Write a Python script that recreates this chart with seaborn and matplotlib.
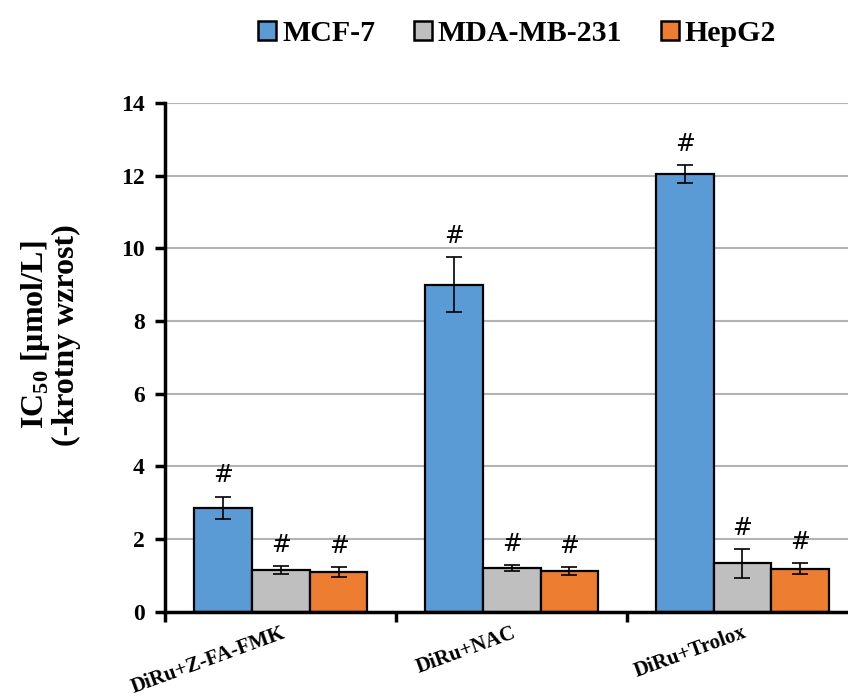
import numpy as np
import pandas as pd
import matplotlib
matplotlib.use('Agg')
import matplotlib.pyplot as plt
import seaborn as sns
from matplotlib.patches import Patch

# data
treatments = ['DiRu+Z-FA-FMK', 'DiRu+NAC', 'DiRu+Trolox']
cell_lines = ['MCF-7', 'MDA-MB-231', 'HepG2']
mcf7 = [2.86, 9.00, 12.04]
mda = [1.16, 1.21, 1.33]
hepg2 = [1.10, 1.12, 1.19]
mcf7_err = [0.31, 0.75, 0.24]
mda_err = [0.11, 0.08, 0.40]
hepg2_err = [0.14, 0.10, 0.15]
palette = ['#5B9BD5', '#BFBFBF', '#ED7D31']

df = pd.DataFrame({
    'treatment': treatments * 3,
    'line': np.repeat(cell_lines, 3),
    'value': mcf7 + mda + hepg2,
    'err': mcf7_err + mda_err + hepg2_err,
})

sns.set_style('white')
plt.rcParams['font.family'] = ['Liberation Serif', 'DejaVu Serif']
plt.rcParams['font.weight'] = 'bold'
plt.rcParams['text.color'] = 'black'
plt.rcParams['axes.labelcolor'] = 'black'
plt.rcParams['xtick.color'] = 'black'
plt.rcParams['ytick.color'] = 'black'
plt.rcParams['mathtext.fontset'] = 'custom'
plt.rcParams['mathtext.rm'] = 'Liberation Serif'

fig = plt.figure(figsize=(8.48, 7.0), dpi=100)
ax = fig.add_axes([0.195, 0.126, 0.805, 0.727])
ax.set_axisbelow(True)
ax.yaxis.grid(True, color='#b3b3b3', linewidth=1.5)

sns.barplot(data=df, x='treatment', y='value', hue='line', order=treatments,
            hue_order=cell_lines, palette=palette, saturation=1, width=0.75, gap=0,
            edgecolor='black', linewidth=1.6, errorbar=None, legend=False, ax=ax)

# error bars and '#' marks on each bar
bars = ax.patches[:len(df)]
for bar, (_, row) in zip(bars, df.iterrows()):
    xc = bar.get_x() + bar.get_width() / 2
    ax.errorbar(xc, row['value'], yerr=row['err'], fmt='none', ecolor='black',
                elinewidth=1.2, capsize=6, capthick=1.2)
    ax.text(xc, row['value'] + row['err'] + 0.25, '#', ha='center', va='bottom',
            fontsize=17, fontweight='normal', family='DejaVu Sans', color='black')

ax.set_ylim(0, 14)
ax.set_yticks(range(0, 15, 2))
ax.set_xlim(-0.5, 2.457)
ax.set_xticks([0, 1, 2])
ax.set_xticklabels(treatments, rotation=20, ha='right', rotation_mode='anchor',
                   fontsize=15, fontweight='bold')
ax.set_xticks([-0.5, 0.5, 1.5], minor=True)
ax.tick_params(axis='x', which='major', length=0, pad=8)
ax.tick_params(axis='x', which='minor', length=7, width=2.5, direction='out', bottom=True)
ax.tick_params(axis='y', length=7, width=2.5, direction='out', left=True, labelsize=17, pad=8)
for lab in ax.get_yticklabels():
    lab.set_fontweight('bold')

for side in ['top', 'right']:
    ax.spines[side].set_visible(False)
for side in ['left', 'bottom']:
    ax.spines[side].set_linewidth(2.5)
    ax.spines[side].set_color('black')

ax.set_xlabel('')
ax.set_ylabel('IC$_{50}$ [µmol/L]\n(-krotny wzrost)', fontsize=23, fontweight='bold',
              linespacing=1.0)
ax.yaxis.set_label_coords(-0.124, 0.544)

handles = [Patch(facecolor=c, edgecolor='black', linewidth=1.8) for c in palette]
fig.legend(handles, cell_lines, loc='upper center', bbox_to_anchor=(0.61, 1.01), ncol=3,
           frameon=False, prop={'weight': 'bold', 'size': 21.5}, handlelength=0.6,
           handleheight=0.6, handletextpad=0.2, columnspacing=1.3)

plt.savefig('out.png', dpi=100)
